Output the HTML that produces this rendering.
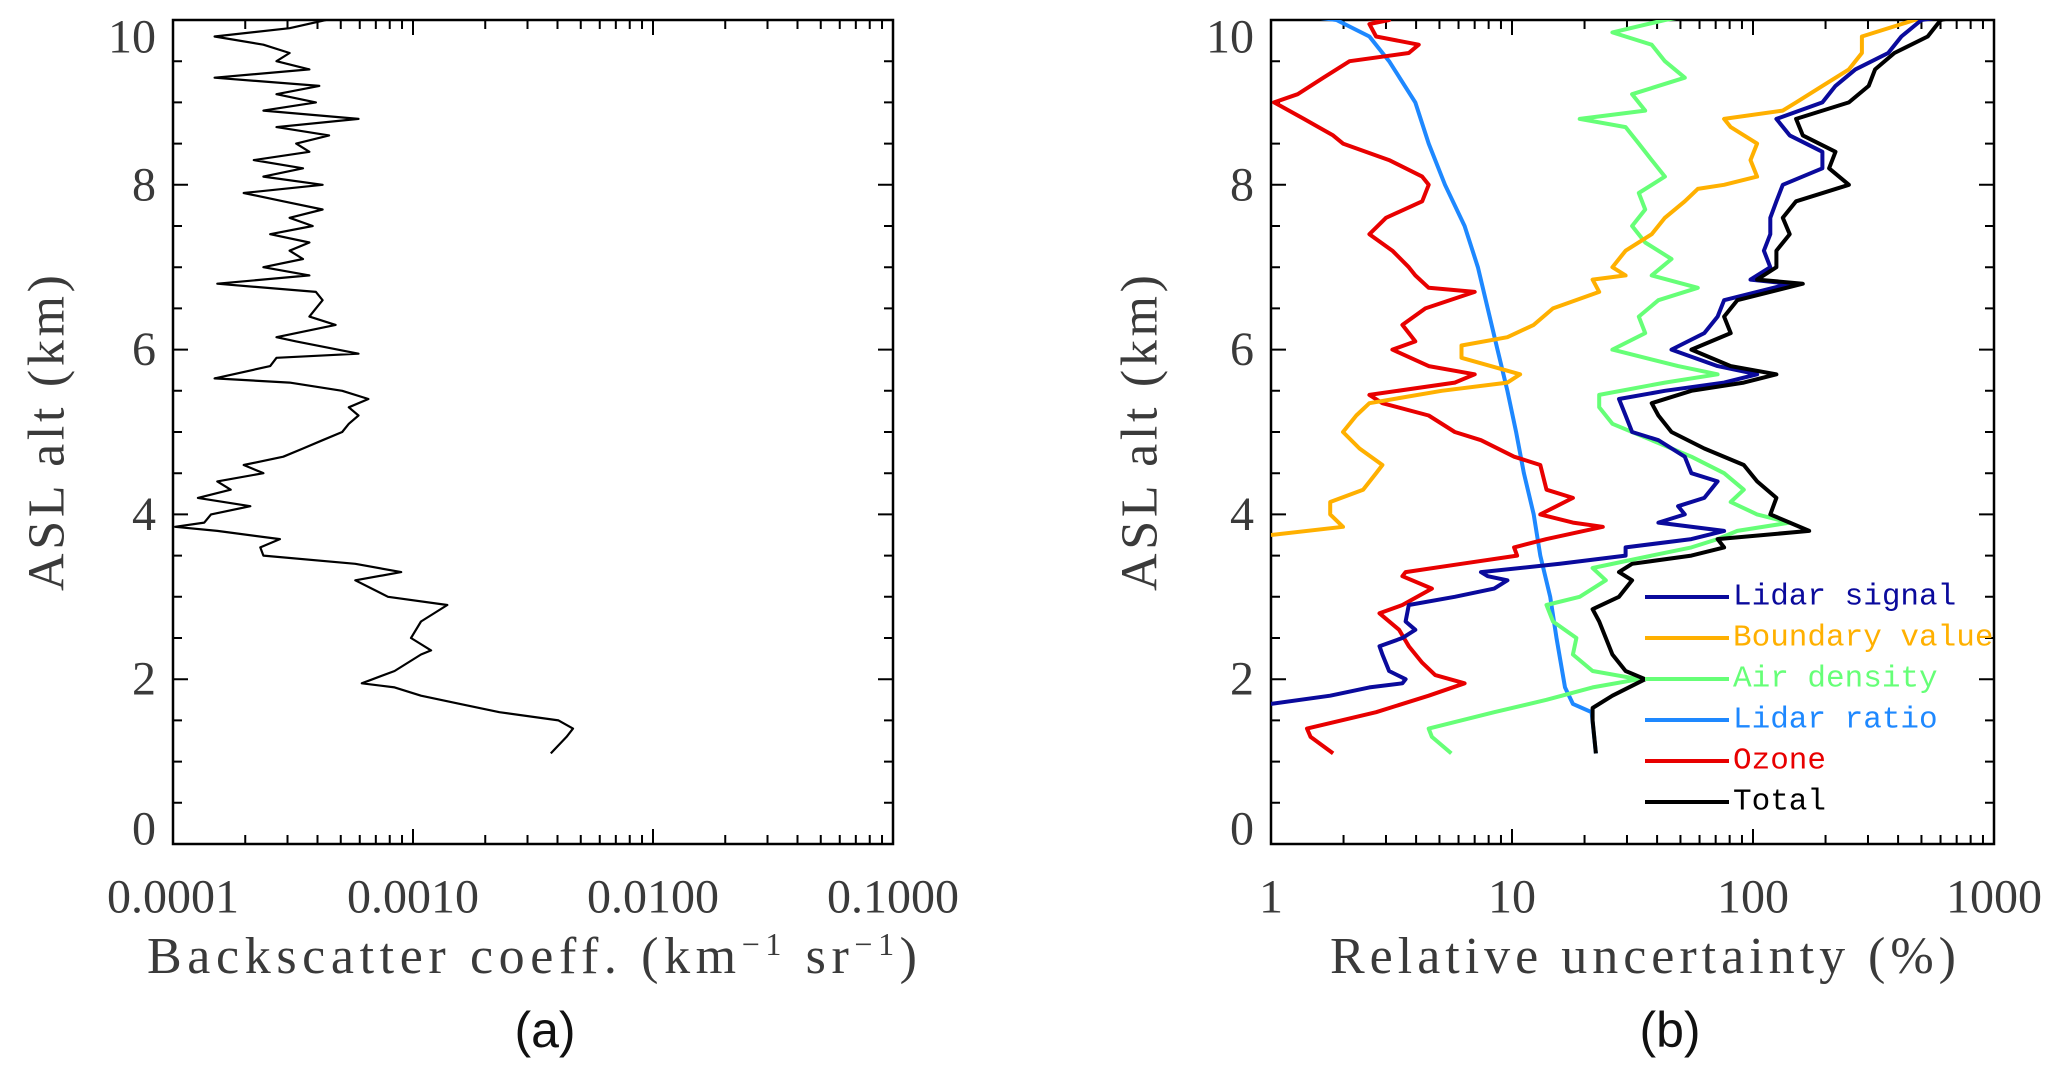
<!DOCTYPE html>
<html><head><meta charset="utf-8">
<style>
html,body{margin:0;padding:0;background:#fff;}
svg{display:block;}
.tk{font-family:"Liberation Serif",serif;font-size:48px;fill:#3a3a3a;}
.tt{font-family:"Liberation Serif",serif;font-size:52px;fill:#3a3a3a;}
.lg{font-family:"Liberation Mono",monospace;font-size:31px;}
.pl{font-family:"Liberation Sans",sans-serif;font-size:50px;fill:#111;}
</style></head>
<body>
<svg id="fig" width="2067" height="1076" viewBox="0 0 2067 1076" xmlns="http://www.w3.org/2000/svg">
<defs>
<clipPath id="clipA"><rect x="173" y="20" width="720" height="824"/></clipPath>
<clipPath id="clipB"><rect x="1271" y="20" width="723" height="824"/></clipPath>
</defs>
</svg>
<script>
// ---- data ----
const altTicks = [0,2,4,6,8,10];
const xTicksA = [0.0001,0.001,0.01,0.1];
const xTickLabelsA = ["0.0001","0.0010","0.0100","0.1000"];
const xTicksB = [1,10,100,1000];
const xTickLabelsB = ["1","10","100","1000"];

const backscatter = [[1.1,3.75e-3],[1.3,4.36e-3],[1.4,4.64e-3],[1.5,4.04e-3],[1.6,2.29e-3],[1.7,1.57e-3],[1.8,1.08e-3],[1.9,8.38e-4],[1.95,6.12e-4],[2.1,8.38e-4],[2.3,1.08e-3],[2.35,1.19e-3],[2.5,9.81e-4],[2.7,1.08e-3],[2.9,1.39e-3],[3.0,7.87e-4],[3.2,5.75e-4],[3.3,8.93e-4],[3.4,5.75e-4],[3.5,2.38e-4],[3.6,2.31e-4],[3.7,2.79e-4],[3.8,1.53e-4],[3.85,1.02e-4],[3.9,1.35e-4],[4.0,1.44e-4],[4.1,2.10e-4],[4.2,1.27e-4],[4.3,1.74e-4],[4.4,1.53e-4],[4.5,2.38e-4],[4.6,1.97e-4],[4.7,2.88e-4],[4.8,3.48e-4],[4.9,4.20e-4],[5.0,5.07e-4],[5.1,5.40e-4],[5.2,5.93e-4],[5.3,5.40e-4],[5.4,6.52e-4],[5.5,5.07e-4],[5.6,3.06e-4],[5.65,1.49e-4],[5.8,2.54e-4],[5.9,2.70e-4],[5.95,5.93e-4],[6.1,3.26e-4],[6.15,2.70e-4],[6.3,4.76e-4],[6.4,3.70e-4],[6.5,3.94e-4],[6.6,4.20e-4],[6.7,3.94e-4],[6.8,1.53e-4],[6.9,3.70e-4],[7.0,2.38e-4],[7.1,3.48e-4],[7.2,3.06e-4],[7.3,3.70e-4],[7.4,2.54e-4],[7.5,3.82e-4],[7.6,3.06e-4],[7.7,4.20e-4],[7.8,2.88e-4],[7.9,1.97e-4],[8.0,4.20e-4],[8.1,2.38e-4],[8.2,3.48e-4],[8.3,2.17e-4],[8.4,3.70e-4],[8.5,3.26e-4],[8.6,4.47e-4],[8.7,2.70e-4],[8.8,5.93e-4],[8.9,2.38e-4],[9.0,3.94e-4],[9.1,2.70e-4],[9.2,4.07e-4],[9.3,1.49e-4],[9.4,3.70e-4],[9.5,2.70e-4],[9.6,3.06e-4],[9.7,2.38e-4],[9.8,1.49e-4],[9.9,3.06e-4],[10.0,4.33e-4],[10.05,2.0e-4],[10.1,1.02e-4]];

const lidarSignal = [[1.7,1.0],[1.8,1.76],[1.9,2.56],[1.95,3.51],[2.0,3.62],[2.1,3.09],[2.3,2.90],[2.4,2.82],[2.5,3.51],[2.6,3.97],[2.7,3.62],[2.9,3.73],[3.0,5.79],[3.1,8.44],[3.2,9.57],[3.25,7.93],[3.3,7.44],[3.4,15.8],[3.5,29.6],[3.6,29.6],[3.7,55.5],[3.8,75.9],[3.9,40.5],[4.0,52.1],[4.1,48.9],[4.2,62.8],[4.4,71.3],[4.5,55.5],[4.7,52.1],[4.9,40.5],[5.0,31.5],[5.2,29.6],[5.4,27.8],[5.5,43.1],[5.6,75.9],[5.7,104],[5.8,71.3],[6.0,45.9],[6.2,62.8],[6.4,71.3],[6.6,75.9],[6.8,142],[6.85,97.6],[7.0,118],[7.2,111],[7.4,118],[7.6,118],[7.8,125],[8.0,133],[8.2,194],[8.4,194],[8.6,142],[8.8,125],[9.0,194],[9.2,220],[9.4,266],[9.6,364],[9.8,413],[10.0,500],[10.1,824]];
const boundaryValue = [[3.75,1.0],[3.85,1.99],[4.0,1.76],[4.15,1.76],[4.3,2.41],[4.5,2.73],[4.6,2.90],[4.8,2.33],[5.0,1.99],[5.2,2.26],[5.35,2.56],[5.5,5.11],[5.6,9.57],[5.7,10.8],[5.9,6.17],[6.05,6.17],[6.15,9.57],[6.3,12.3],[6.5,14.8],[6.7,23.0],[6.85,21.6],[6.9,29.6],[7.0,26.1],[7.2,29.6],[7.4,38.0],[7.6,43.1],[7.8,52.1],[7.95,59.0],[8.0,75.9],[8.1,104],[8.3,97.6],[8.5,104],[8.7,80.8],[8.8,75.9],[8.9,133],[9.0,151],[9.2,194],[9.4,250],[9.6,283],[9.8,283],[10.0,468],[10.1,773]];
const airDensity = [[1.1,5.6],[1.3,4.65],[1.4,4.51],[1.6,8.44],[1.75,13.9],[1.9,21.6],[2.0,33.6],[2.1,21.6],[2.3,17.9],[2.5,18.5],[2.7,14.8],[2.9,13.9],[3.0,19.1],[3.2,24.5],[3.35,21.6],[3.5,38.0],[3.6,55.5],[3.7,71.3],[3.8,86.1],[3.9,142],[4.0,104],[4.15,80.8],[4.3,91.6],[4.5,75.9],[4.7,55.5],[4.9,38.0],[5.1,26.1],[5.3,23.0],[5.45,23.0],[5.6,43.1],[5.7,71.3],[5.8,48.9],[6.0,26.1],[6.2,35.7],[6.4,33.6],[6.6,40.5],[6.75,59.0],[6.9,38.0],[7.1,45.9],[7.3,35.7],[7.5,31.5],[7.7,35.7],[7.9,33.6],[8.1,43.1],[8.3,38.0],[8.5,33.6],[8.7,29.6],[8.8,19.1],[8.9,35.7],[9.1,31.5],[9.3,52.1],[9.5,43.1],[9.7,38.0],[9.85,26.1],[10.0,43.1],[10.1,67.0]];
const lidarRatio = [[1.1,22.3],[1.6,21.4],[1.7,17.9],[1.9,16.6],[2.5,15.3],[3.0,14.4],[3.5,13.1],[4.0,12.3],[4.5,11.2],[5.0,10.4],[5.5,9.57],[6.0,8.71],[6.5,7.93],[7.0,7.22],[7.5,6.36],[8.0,5.27],[8.5,4.51],[9.0,3.97],[9.5,3.09],[9.8,2.56],[10.0,1.87],[10.1,1.0]];
const ozone = [[1.1,1.81],[1.3,1.46],[1.4,1.41],[1.6,2.73],[1.8,4.51],[1.95,6.36],[2.05,4.80],[2.2,4.24],[2.4,3.73],[2.6,3.40],[2.8,2.82],[2.9,3.51],[3.1,4.65],[3.25,3.51],[3.3,3.62],[3.4,6.17],[3.5,10.5],[3.6,10.2],[3.7,13.9],[3.85,23.8],[3.9,17.9],[4.0,13.1],[4.2,17.9],[4.3,13.9],[4.6,13.1],[4.7,10.2],[4.9,7.44],[5.0,5.79],[5.2,4.51],[5.35,2.90],[5.45,2.56],[5.6,5.79],[5.7,7.00],[5.8,4.51],[6.0,3.19],[6.1,3.97],[6.3,3.51],[6.5,4.37],[6.7,7.00],[6.75,4.51],[6.9,3.97],[7.0,3.73],[7.2,3.19],[7.4,2.56],[7.6,3.00],[7.8,4.24],[8.0,4.51],[8.1,4.24],[8.3,3.09],[8.5,1.99],[8.6,1.81],[8.8,1.37],[9.0,1.03],[9.1,1.29],[9.3,1.65],[9.5,2.12],[9.6,3.73],[9.7,4.10],[9.8,2.73],[9.95,2.56],[10.0,3.09],[10.05,1.99],[10.1,1.87]];
const total = [[1.1,22.3],[1.5,21.6],[1.65,21.6],[1.8,26.1],[2.0,35.7],[2.1,29.6],[2.3,26.1],[2.5,24.5],[2.7,23.0],[2.85,21.6],[3.0,27.8],[3.2,31.5],[3.3,27.8],[3.4,31.5],[3.5,55.5],[3.6,75.9],[3.7,71.3],[3.8,171],[3.9,142],[4.0,118],[4.2,125],[4.4,104],[4.6,91.6],[4.8,62.8],[5.0,45.9],[5.2,40.5],[5.35,38.0],[5.5,55.5],[5.6,91.6],[5.7,125],[5.8,80.8],[6.0,55.5],[6.2,80.8],[6.4,75.9],[6.6,86.1],[6.8,161],[6.85,104],[7.0,125],[7.2,125],[7.4,142],[7.6,133],[7.8,151],[8.0,250],[8.2,207],[8.4,220],[8.6,161],[8.8,151],[9.0,250],[9.2,302],[9.4,321],[9.6,386],[9.8,531],[10.0,601],[10.1,877]];

const seriesNames = ["Lidar signal","Boundary value","Air density","Lidar ratio","Ozone","Total"];
const seriesColors = ["#0a0a9c","#ffb000","#66ff77","#1e88ff","#e80000","#000000"];
const seriesData = [lidarSignal,boundaryValue,airDensity,lidarRatio,ozone,total];

// ---- drawing ----
const NS="http://www.w3.org/2000/svg";
const svg=document.getElementById('fig');
function mk(tag,attrs,parent){const e=document.createElementNS(NS,tag);for(const k in attrs)e.setAttribute(k,attrs[k]);(parent||svg).appendChild(e);return e;}
const Y0=844, YTOP=20;
function yScale(a){return Y0-(a/10)*(Y0-YTOP);}
function makeX(x0,x1,lmin,lmax){return v=>x0+(Math.log10(v)-lmin)/(lmax-lmin)*(x1-x0);}

function panel(id,x0,x1,lmin,lmax,ticks,labels,ytx){
  const xs=makeX(x0,x1,lmin,lmax);
  const g=mk('g',{});
  
  
  let d='';
  for(let a=0;a<=10.001;a+=0.5){const y=yScale(a);const L=(Math.abs(a/2-Math.round(a/2))<1e-6)?15:9;d+=`M${x0},${y}h${L}M${x1},${y}h${-L}`;}
  for(let e=lmin;e<lmax;e++){for(let m=1;m<=9;m++){const x=xs(m*Math.pow(10,e));const L=m===1?15:9;if(m===1&&e===lmin)continue;d+=`M${x},${Y0}v${-L}M${x},${YTOP}v${L}`;}}
  const tk=mk('path',{d:d,stroke:'#000','stroke-width':2,fill:'none'},g);
  
  
  const box=mk('rect',{x:x0,y:YTOP,width:x1-x0,height:Y0-YTOP,fill:'none',stroke:'#000','stroke-width':2.5},g);
  
  
  altTicks.forEach(a=>{let y=yScale(a);if(a===0)y-=15;if(a===10)y+=17;
    const t=mk('text',{x:x0-17,y:y,'text-anchor':'end','dominant-baseline':'central',class:'tk'},g);t.textContent=String(a);
    
    });
  ticks.forEach((v,i)=>{const t=mk('text',{x:xs(v),y:897,'text-anchor':'middle','dominant-baseline':'central',class:'tk'},g);t.textContent=labels[i];
    
    });
  const yt=mk('text',{x:0,y:0,transform:`translate(${ytx},433) rotate(-90)`,'text-anchor':'middle','dominant-baseline':'central',class:'tt',textLength:316,lengthAdjust:'spacing'},g);
  yt.textContent='ASL alt (km)';
  
  
  return {g,xs};
}

const A=panel('a',173,893,-4,-1,xTicksA,xTickLabelsA,47);
const xtA=mk('text',{x:147,y:973,class:'tt',textLength:770,lengthAdjust:'spacing'},A.g);
xtA.innerHTML='Backscatter coeff. (km<tspan dy="-18" font-size="32">−1</tspan><tspan dy="18"> sr</tspan><tspan dy="-18" font-size="32">−1</tspan><tspan dy="18">)</tspan>';


const la=mk('polyline',{points:backscatter.map(p=>A.xs(p[1]).toFixed(1)+','+yScale(p[0]).toFixed(1)).join(' '),fill:'none',stroke:'#000','stroke-width':2.2,'clip-path':'url(#clipA)','stroke-linejoin':'round'},A.g);


const pa=mk('text',{x:545,y:1030,'text-anchor':'middle','dominant-baseline':'central',class:'pl'});
pa.textContent='(a)';



const B=panel('b',1271,1994,0,3,xTicksB,xTickLabelsB,1140);
const xtB=mk('text',{x:1330,y:973,class:'tt',textLength:626,lengthAdjust:'spacing'},B.g);
xtB.textContent='Relative uncertainty (%)';


const order=[3,4,2,1,0,5];
order.forEach(i=>{const l=mk('polyline',{points:seriesData[i].map(p=>B.xs(p[1]).toFixed(1)+','+yScale(p[0]).toFixed(1)).join(' '),fill:'none',stroke:seriesColors[i],'stroke-width':4,'clip-path':'url(#clipB)','stroke-linejoin':'round'},B.g);
  
  });
const leg=mk('g',{},B.g);


seriesNames.forEach((n,i)=>{const y=597+i*41;
  const ln=mk('line',{x1:1645,x2:1729,y1:y,y2:y,stroke:seriesColors[i],'stroke-width':4},leg);
  
  
  const t=mk('text',{x:1733,y:y,'dominant-baseline':'central',class:'lg',fill:seriesColors[i]},leg);t.textContent=n;
  
  });
const pb=mk('text',{x:1670,y:1030,'text-anchor':'middle','dominant-baseline':'central',class:'pl'});
pb.textContent='(b)';


</script>
</body></html>
